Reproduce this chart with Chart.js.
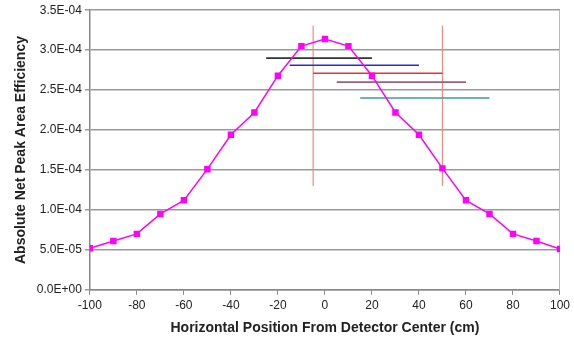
<!DOCTYPE html>
<html>
<head>
<meta charset="utf-8">
<script src="https://cdn.jsdelivr.net/npm/chart.js@4.4.1/dist/chart.umd.min.js"></script>
<style>
  html, body { margin: 0; padding: 0; background: #fff; }
  #wrap { width: 574px; height: 341px; }
</style>
</head>
<body>
<div id="wrap"><canvas id="effChart" width="574" height="341"></canvas></div>
<script>
const positions = [-100, -90, -80, -70, -60, -50, -40, -30, -20, -10, 0, 10, 20, 30, 40, 50, 60, 70, 80, 90, 100];
const efficiency = [5.2e-5, 6.1e-5, 7.0e-5, 9.5e-5, 1.12e-4, 1.51e-4, 1.94e-4, 2.22e-4, 2.68e-4, 3.05e-4, 3.14e-4,
                    3.05e-4, 2.68e-4, 2.22e-4, 1.94e-4, 1.52e-4, 1.12e-4, 9.5e-5, 7.0e-5, 6.1e-5, 5.1e-5];

// horizontal range bars: start, end, level
const barStarts = [-25, -15, -5, 5, 15];
const barEnds = [20, 40, 50, 60, 70];
const barLevels = [2.9e-4, 2.81e-4, 2.71e-4, 2.6e-4, 2.4e-4];
const barColors = ['#333333', '#2a2ad8', '#f0302c', '#9c5f7e', '#3c9c9c'];

// vertical markers
const markerX = [-5, 50];
const markerLow = 1.3e-4;
const markerHigh = 3.31e-4;

const yTicks = [0, 5e-5, 1e-4, 1.5e-4, 2e-4, 2.5e-4, 3e-4, 3.5e-4];

function sciLabel(v) {
  let parts = Number(v).toExponential(1).split('e');
  let exp = parseInt(parts[1], 10);
  let sign = exp < 0 ? '-' : '+';
  let digits = String(Math.abs(exp)).padStart(2, '0');
  return parts[0] + 'E' + sign + digits;
}

let datasets = [{
  label: 'efficiency',
  data: positions.map((p, i) => ({ x: p, y: efficiency[i] })),
  borderColor: '#ff00ff',
  backgroundColor: '#ff00ff',
  borderWidth: 1.5,
  pointStyle: 'rect',
  pointRadius: 3.5,
  tension: 0
}];

barStarts.forEach((s, i) => {
  datasets.push({
    label: 'bar' + i,
    data: [{ x: s, y: barLevels[i] }, { x: barEnds[i], y: barLevels[i] }],
    borderColor: barColors[i],
    borderWidth: 1.6,
    pointRadius: 0
  });
});

markerX.forEach((m, i) => {
  datasets.push({
    label: 'marker' + i,
    data: [{ x: m, y: markerLow }, { x: m, y: markerHigh }],
    borderColor: '#f08a80',
    borderWidth: 1.2,
    pointRadius: 0
  });
});

Chart.defaults.font.family = '"Liberation Sans", Arial, sans-serif';
Chart.defaults.color = '#222';

const effChart = new Chart(document.getElementById('effChart'), {
  type: 'line',
  data: { datasets: datasets },
  options: {
    responsive: false,
    animation: false,
    layout: { padding: { top: 3, right: 14, left: 9, bottom: 0 } },
    plugins: {
      legend: { display: false },
      tooltip: { enabled: false }
    },
    scales: {
      x: {
        type: 'linear',
        min: -100,
        max: 100,
        ticks: { stepSize: 20, font: { size: 12 }, color: '#222', padding: 4 },
        grid: { drawOnChartArea: false, drawTicks: true, tickLength: 5, color: '#888' },
        border: { color: '#888', width: 1.5 },
        title: {
          display: true,
          text: 'Horizontal Position From Detector Center (cm)',
          font: { size: 14, weight: 'bold' },
          color: '#222',
          padding: { top: 3 }
        }
      },
      y: {
        min: 0,
        max: 3.5e-4,
        afterBuildTicks: (scale) => { scale.ticks = yTicks.map(v => ({ value: v })); },
        ticks: { callback: (v) => sciLabel(v), font: { size: 12 }, color: '#222', padding: 3 },
        grid: { color: '#999', lineWidth: 1.5, tickLength: 5 },
        border: { color: '#888', width: 1.5 },
        title: {
          display: true,
          text: 'Absolute Net Peak Area Efficiency',
          font: { size: 14, weight: 'bold' },
          color: '#222',
          padding: { bottom: 4 }
        }
      },
      yRight: {
        position: 'right',
        min: 0,
        max: 3.5e-4,
        ticks: { display: false },
        grid: { drawOnChartArea: false, drawTicks: false },
        border: { color: '#bbb', width: 1 }
      }
    }
  }
});
</script>
</body>
</html>
